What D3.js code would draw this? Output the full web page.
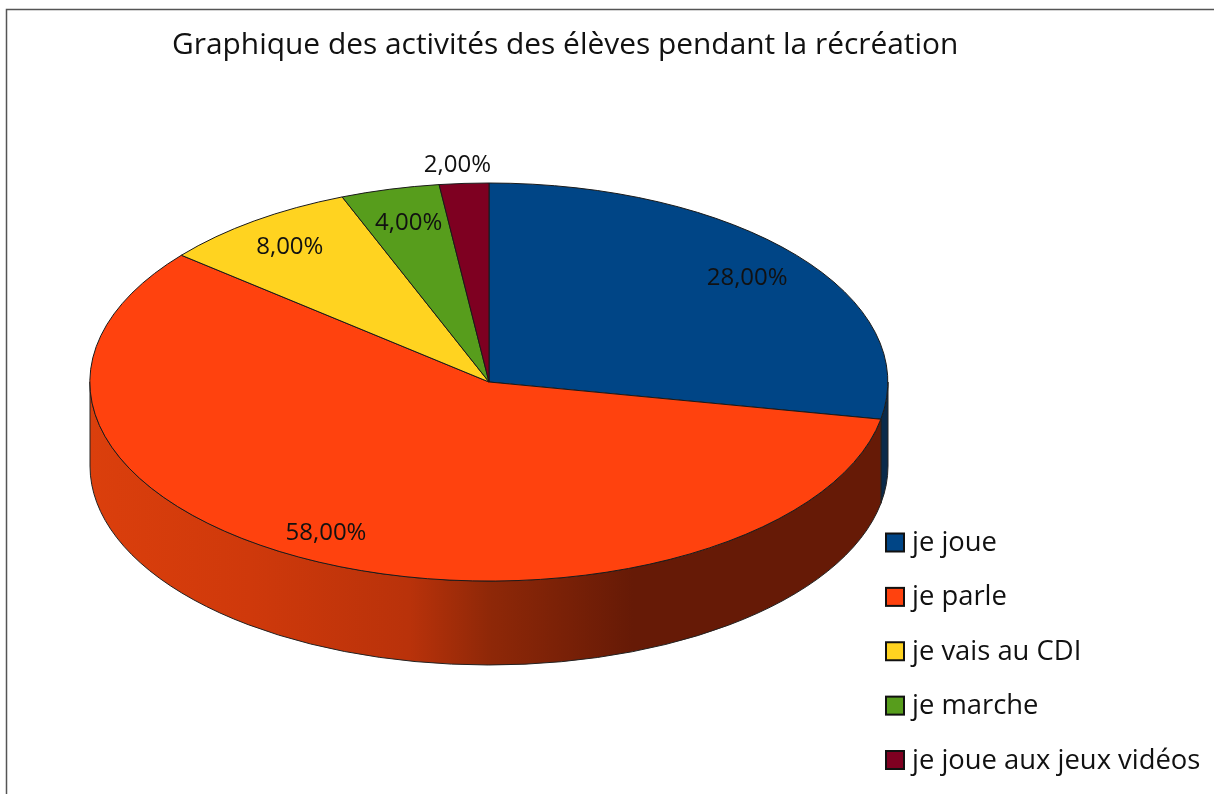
<!DOCTYPE html>
<html><head><meta charset="utf-8">
<script src="https://cdn.jsdelivr.net/npm/d3@7"></script>
<style>html,body{margin:0;padding:0;background:#fff}svg{display:block;filter:blur(0.45px)}text{font-family:"Open Sans",sans-serif;fill:#111}</style>
</head><body><svg id="c" width="1214" height="794"></svg>
<script>
const chartTitle = "Graphique des activités des élèves pendant la récréation";
const categories = ["je joue","je parle","je vais au CDI","je marche","je joue aux jeux vidéos"];
const values = [28,58,8,4,2];
const topColors = ["#004586","#ff420e","#ffd320","#579d1c","#7e0021"];

const W=1214,H=794,cx=489,cy=382,rx=399,ry=199,depth=84;
const svg=d3.select("#c");
const fmt=v=>v.toFixed(2).replace(".",",")+"%";
const pie=d3.pie().sort(null).value(d=>d);
const arcs=pie(values);
const px=a=>cx+rx*Math.sin(a), py=a=>cy-ry*Math.cos(a);

// frame
svg.append("path").attr("d",`M6.5,${H}V9.5H${W}`).attr("fill","none").attr("stroke","#555").attr("stroke-width",1.5);

// wall gradient
const defs=svg.append("defs");
const g=defs.append("linearGradient").attr("id","wall").attr("gradientUnits","userSpaceOnUse")
 .attr("x1",cx-rx).attr("x2",cx+rx).attr("y1",0).attr("y2",0);
[[0,"#db3f0c"],[0.2,"#cf390b"],[0.4,"#b9320a"],[0.5,"#8f2808"],[0.68,"#661a06"],[1,"#661a06"]]
 .forEach(([o,c])=>g.append("stop").attr("offset",o).attr("stop-color",c));

// side walls (front half only, from angle PI/2 to 3PI/2)
function wall(a0,a1){
  return `M${px(a0)},${py(a0)}A${rx},${ry} 0 0 1 ${px(a1)},${py(a1)}`+
         `V${py(a1)+depth}A${rx},${ry} 0 0 0 ${px(a0)},${py(a0)+depth}Z`;
}
const walls=[
  {a0:Math.PI/2,a1:arcs[0].endAngle,fill:"#0a2a4a"},
  {a0:arcs[1].startAngle,a1:3*Math.PI/2,fill:"url(#wall)"}
];
svg.selectAll(".wall").data(walls).join("path").attr("class","wall")
  .attr("d",d=>wall(d.a0,d.a1)).attr("fill",d=>d.fill)
  .attr("stroke","#222").attr("stroke-width",1).attr("stroke-linejoin","round");

// top face
const arcGen=d3.arc().innerRadius(0).outerRadius(1);
svg.append("g").attr("transform",`translate(${cx},${cy}) scale(${rx},${ry})`)
  .selectAll("path").data(arcs).join("path")
  .attr("d",arcGen).attr("fill",(d,i)=>topColors[i])
  .attr("stroke","#1a1a1a").attr("stroke-width",1).attr("vector-effect","non-scaling-stroke");

// data labels
const labelR=[.83,.83,.845,.83,1.1], labelDx=[3,-22,-1,2,-4];
svg.selectAll(".lab").data(arcs).join("text").attr("class","lab")
  .attr("x",(d,i)=>px((d.startAngle+d.endAngle)/2)*labelR[i]+cx*(1-labelR[i])+labelDx[i])
  .attr("y",(d,i)=>cy-ry*Math.cos((d.startAngle+d.endAngle)/2)*labelR[i])
  .attr("dy","0.35em").attr("text-anchor","middle").attr("font-size",24)
  .text(d=>fmt(d.data));

// title
svg.append("text").attr("x",172).attr("y",54).attr("font-size",29.9).text(chartTitle);

// legend
const ly=d3.scalePoint().domain(categories).range([542.5,760]);
const leg=svg.selectAll(".leg").data(categories).join("g").attr("class","leg")
  .attr("transform",d=>`translate(886,${ly(d)})`);
leg.append("rect").attr("x",0).attr("y",-9).attr("width",18).attr("height",18)
  .attr("fill",(d,i)=>topColors[i]).attr("stroke","#111").attr("stroke-width",2);
leg.append("text").attr("x",26).attr("y",8.5).attr("font-size",27.4).text(d=>d);
</script></body></html>
